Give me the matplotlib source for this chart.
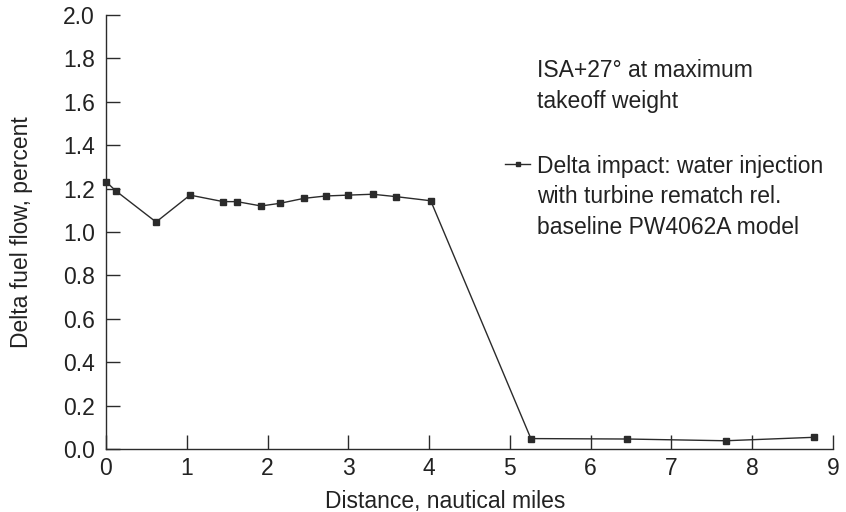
import matplotlib
matplotlib.use("Agg")
import matplotlib.pyplot as plt

distance_nm = [0.0, 0.12, 0.62, 1.04, 1.45, 1.62, 1.92, 2.15, 2.45, 2.72, 3.0, 3.30, 3.59, 4.02,
               5.26, 6.45, 7.67, 8.77]
delta_fuel_flow = [1.232, 1.19, 1.046, 1.17, 1.14, 1.14, 1.12, 1.132, 1.155, 1.166, 1.17, 1.174,
                   1.163, 1.144, 0.048, 0.046, 0.038, 0.054]
x_ticks = list(range(0, 10))
y_ticks = [0.0, 0.2, 0.4, 0.6, 0.8, 1.0, 1.2, 1.4, 1.6, 1.8, 2.0]
legend_lines = ['Delta impact: water injection', 'with turbine rematch rel.',
                'baseline PW4062A model']

plt.rcParams['font.family'] = ['Liberation Sans', 'DejaVu Sans']
col = '#2b2b2b'
tcol = '#222222'
fs = 16.5
W, H = 846, 512
fig = plt.figure(figsize=(W/100, H/100), dpi=100)
ax = fig.add_axes([106/W, 1-449/H, (833-106)/W, (449-15)/H])

ax.plot(distance_nm, delta_fuel_flow, color=col, lw=1.0, marker='s', ms=4.8,
        mfc=col, mec=col, clip_on=False, label=legend_lines[0])

ax.set_xlim(0, 9)
ax.set_ylim(0, 2.0)
ax.set_xticks(x_ticks)
ax.set_yticks(y_ticks)
ax.set_yticklabels([f'{v:.1f}' for v in y_ticks])
for s in ['top', 'right']:
    ax.spines[s].set_visible(False)
for s in ['left', 'bottom']:
    ax.spines[s].set_color(col)
    ax.spines[s].set_linewidth(1.0)
ax.tick_params(direction='in', length=10, width=1.0, colors=col, labelsize=fs,
               labelcolor=tcol)
ax.tick_params(axis='y', pad=8)
ax.tick_params(axis='x', pad=6)

ax.set_xlabel('Distance, nautical miles', fontsize=fs, color=tcol)
ax.xaxis.set_label_coords(0.466, -0.094)
ax.set_ylabel('Delta fuel flow, percent', fontsize=fs, color=tcol)
ax.yaxis.set_label_coords(-0.100, 0.5)

fig.text(537/W, 1-59/H, 'ISA+27° at maximum\ntakeoff weight',
         fontsize=fs, color=tcol, va='top', ha='left', linespacing=1.45)

leg = ax.legend(loc='center left', bbox_to_anchor=(505/W, 1-166/H),
                bbox_transform=fig.transFigure, frameon=False, fontsize=fs,
                handlelength=1.1, handletextpad=0.3, borderpad=0, borderaxespad=0,
                markerscale=0.75, labelcolor=tcol)

fig.canvas.draw()
bb = leg.get_texts()[0].get_window_extent()
x0 = bb.x0 / W
fig.text(x0, 1-185/H, '\n'.join(legend_lines[1:]), fontsize=fs, color=tcol,
         va='top', ha='left', linespacing=1.45)

fig.savefig('out.png', dpi=100)
